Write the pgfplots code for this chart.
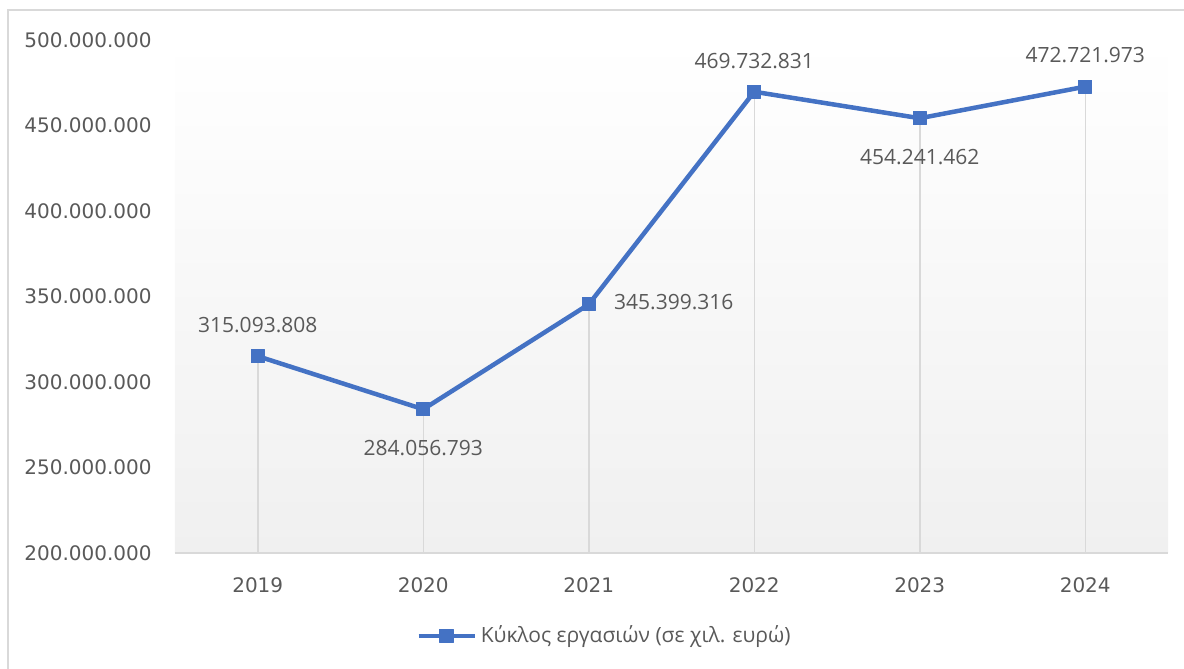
\documentclass[border=0pt]{standalone}
\usepackage{pgfplots}
\pgfplotsset{compat=1.18}
\usepackage{fontspec}
\setmainfont{Open Sans}
\newfontfamily\dejavu{DejaVu Sans}
\definecolor{linec}{HTML}{4472C4}
\definecolor{gridc}{HTML}{D9D9D9}
\definecolor{txt}{HTML}{595959}
\definecolor{bgbot}{HTML}{F0F0F0}

\begin{document}
\begin{tikzpicture}
\path[use as bounding box] (0,0) rectangle (592pt,334.5pt);
\draw[gridc, line width=0.75pt] (4pt,-5pt) -- (4pt,329.5pt) -- (600pt,329.5pt);
\begin{axis}[
  at={(87.5pt,58pt)}, anchor=south west,
  scale only axis, width=496.5pt, height=256.5pt,
  xmin=-0.5, xmax=5.5, ymin=200000000, ymax=500000000,
  scaled y ticks=false,
  xtick={0,1,2,3,4,5}, xticklabels={2019,2020,2021,2022,2023,2024},
  ytick={200000000,250000000,300000000,350000000,400000000,450000000,500000000},
  yticklabels={200.000.000,250.000.000,300.000.000,350.000.000,400.000.000,450.000.000,500.000.000},
  axis x line*=bottom, axis y line*=left,
  x axis line style={draw=gridc, line width=0.75pt, -},
  y axis line style={draw=none},
  major tick length=0pt, tick style={draw=none},
  ticklabel style={font=\dejavu\fontsize{10}{12}\selectfont, text=txt, inner sep=0pt},
  xticklabel style={anchor=north, yshift=-12pt},
  yticklabel style={anchor=east, xshift=-11.5pt},
  axis background/.style={shade, top color=white, bottom color=bgbot},
  legend style={draw=none, fill=none, at={(0.4335,-0.1618)}, anchor=center,
    font=\fontsize{10.5}{12}\selectfont, text=txt},
  legend image code/.code={\draw[mark repeat=2,mark phase=2,#1] plot coordinates {(0pt,0pt) (14pt,0pt) (28pt,0pt)};},
  lbl/.style={draw=none, mark=none, forget plot, nodes near coords, point meta=explicit symbolic,
    nodes near coords style={font=\fontsize{10.5}{12}\selectfont, text=txt, inner sep=0pt}},
]
\addplot[ycomb, draw=gridc, line width=0.75pt, mark=none, forget plot] coordinates {
  (0,315093808) (1,284056793) (2,345399316) (3,469732831) (4,454241462) (5,472721973)};
\addplot[color=linec, line width=2.25pt, line join=round, mark=square*, mark size=3.3pt,
  mark options={solid, fill=linec, line width=0.5pt}] coordinates {
  (0,315093808) (1,284056793) (2,345399316) (3,469732831) (4,454241462) (5,472721973)};
\addlegendentry{Κύκλος εργασιών (σε χιλ. ευρώ)}
\addplot[lbl, nodes near coords style={anchor=south, yshift=11.5pt}] coordinates {
  (0,315093808)[315.093.808] (3,469732831)[469.732.831] (5,472721973)[472.721.973]};
\addplot[lbl, nodes near coords style={anchor=north, yshift=-15.5pt}] coordinates {
  (1,284056793)[284.056.793] (4,454241462)[454.241.462]};
\addplot[lbl, nodes near coords style={anchor=west, xshift=12.5pt, yshift=1pt}] coordinates {
  (2,345399316)[345.399.316]};
\end{axis}
\end{tikzpicture}
\end{document}
